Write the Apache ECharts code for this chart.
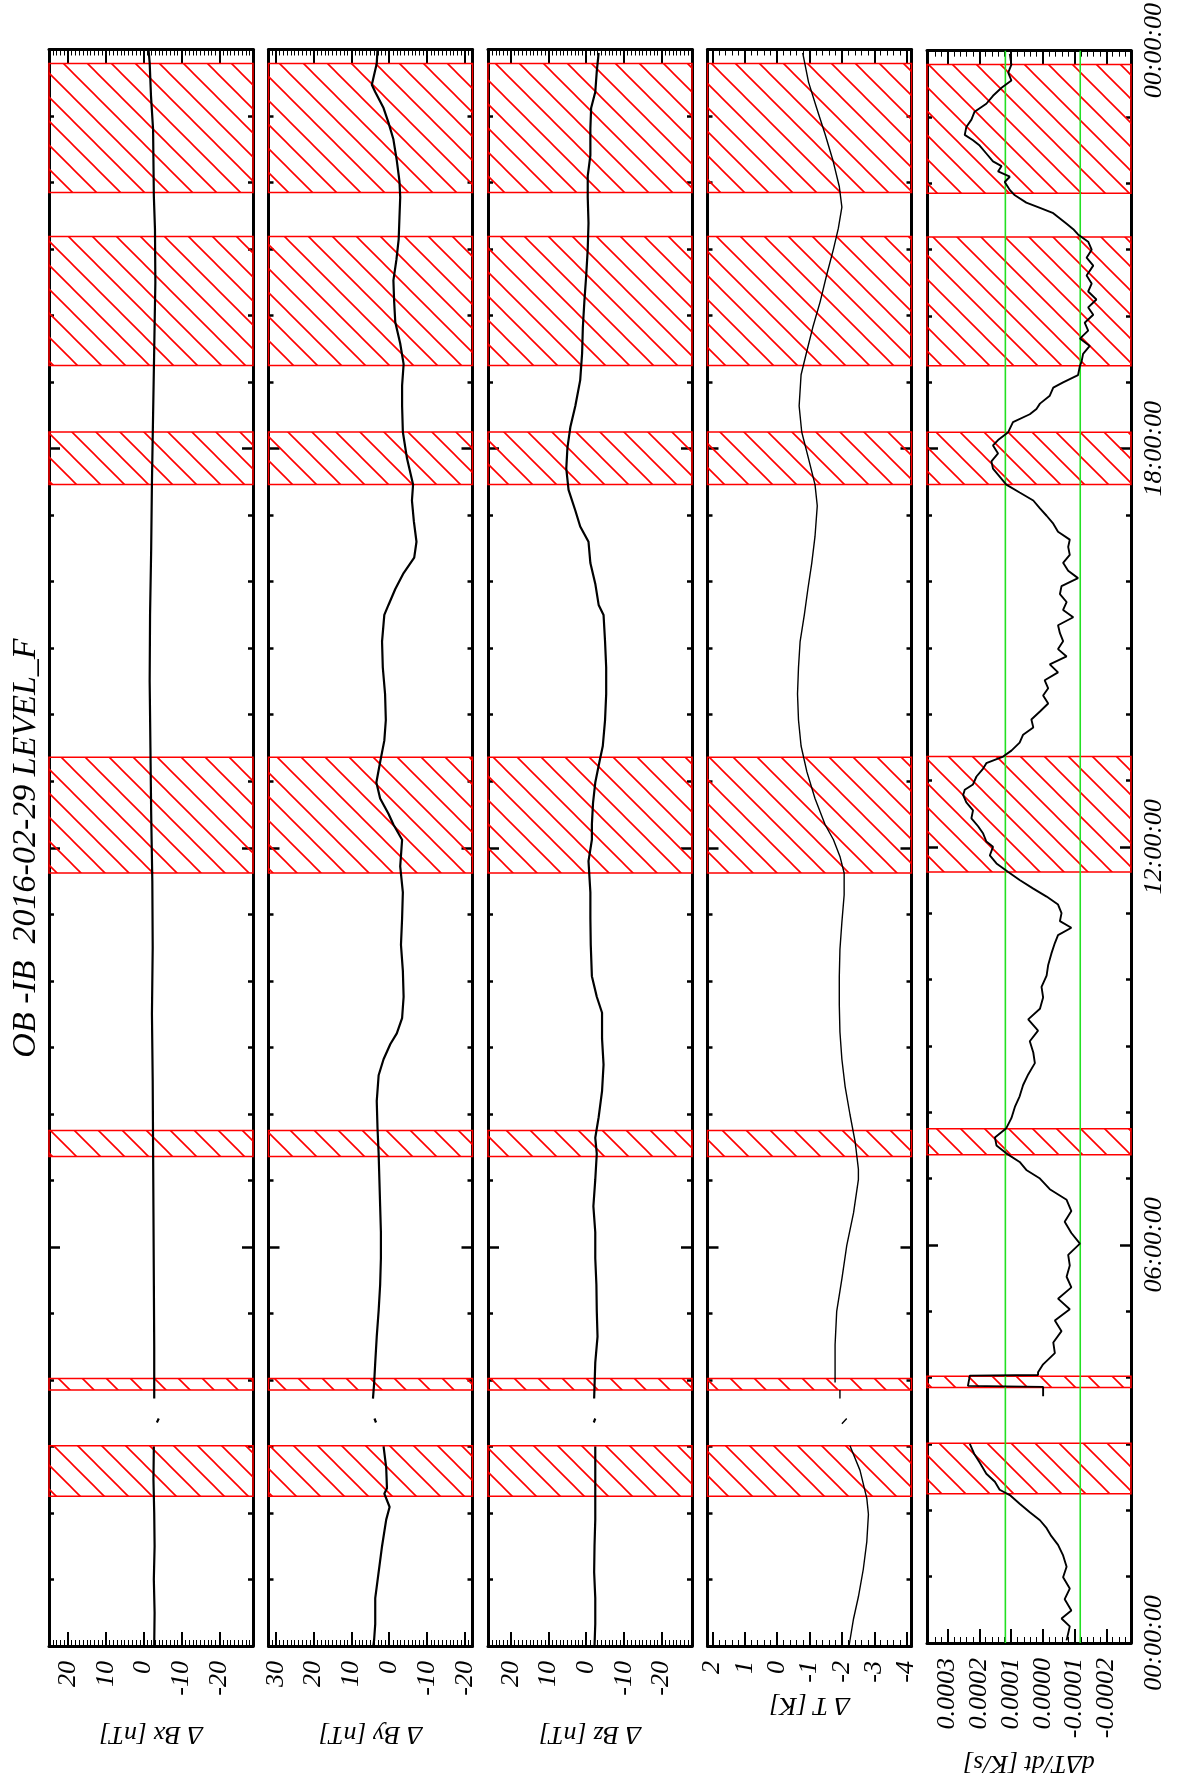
<!DOCTYPE html>
<html><head><meta charset="utf-8">
<script src="https://cdn.jsdelivr.net/npm/echarts@6/dist/echarts.min.js"></script>
<style>html,body{margin:0;padding:0;background:#fff}#c{width:1181px;height:1781px}</style>
</head><body><div id="c"></div><script>
// ---- data: [hour, value]; null = data gap ----
const bandStart = [2.25, 3.85, 7.36, 11.62, 17.46, 19.25, 21.85];
const bandEnd   = [3.01, 4.02, 7.75, 13.36, 18.25, 21.19, 23.79];
const tLimit = [0.000118, -0.000118];

const timeTicks  = [0, 6, 12, 18, 24];
const timeLabels = ['00:00:00', '06:00:00', '12:00:00', '18:00:00', '00:00:00'];
const bxTicks = [20, 10, 0, -10, -20];
const byTicks = [30, 20, 10, 0, -10, -20];
const bzTicks = [20, 10, 0, -10, -20];
const tTicks  = [2, 1, 0, -1, -2, -3, -4];
const dtTicks = [0.0003, 0.0002, 0.0001, 0, -0.0001, -0.0002];
const dtTickLabels = ['0.0003', '0.0002', '0.0001', '0.0000', '-0.0001', '-0.0002'];

const bx = [[0.0,-2.8],[0.5,-2.9],[1.0,-2.7],[1.5,-2.9],[2.0,-2.8],[2.5,-2.6],[3.0,-2.7],null,
  [3.36,-3.5],[3.42,-4.0],null,[3.72,-2.8],[4.5,-2.8],[5.5,-2.7],[6.5,-2.6],[7.5,-2.5],[8.5,-2.4],
  [9.5,-2.2],[10.5,-2.4],[11.5,-2.3],[12.5,-2.0],[13.5,-1.8],[14.5,-1.6],[15.5,-1.7],[16.5,-2.0],
  [17.5,-2.2],[18.5,-2.5],[19.5,-2.8],[20.5,-3.1],[21.3,-3.0],[21.8,-2.7],[22.3,-2.6],[22.8,-2.5],
  [23.3,-1.95],[23.8,-1.6],[24.0,-1.3]];

const by = [[0.00,4.2],[0.09,4.0],[0.33,3.7],[0.72,3.7],[1.11,2.8],[1.50,1.9],[1.90,0.8],[2.09,-0.1],
  [2.29,1.3],[2.37,0.6],[2.68,0.8],[3.00,1.5],null,[3.36,3.5],[3.42,3.9],null,[3.72,4.3],[3.94,4.0],
  [4.26,3.7],[4.65,3.3],[5.04,2.8],[5.43,2.4],[5.83,2.2],[6.22,2.2],[6.61,2.4],[7.01,2.6],[7.40,2.8],
  [7.79,3.1],[8.19,3.3],[8.58,2.8],[8.82,1.5],[9.05,-0.3],[9.21,-2.0],[9.44,-3.4],[9.76,-3.8],
  [10.15,-3.6],[10.54,-3.1],[10.94,-3.4],[11.33,-3.6],[11.72,-2.9],[12.12,-3.4],[12.35,-1.1],
  [12.51,0.2],[12.74,2.4],[12.98,3.4],[13.29,2.4],[13.61,1.3],[13.92,0.9],[14.31,1.1],[14.71,1.7],
  [15.10,1.9],[15.50,1.3],[15.65,0.2],[15.89,-1.6],[16.13,-3.8],[16.36,-6.6],[16.60,-7.2],
  [16.91,-6.5],[17.22,-6.0],[17.46,-6.3],[17.85,-4.7],[18.25,-3.6],[18.64,-3.4],[18.95,-3.4],
  [19.27,-3.8],[19.58,-2.9],[19.90,-1.6],[20.21,-1.3],[20.53,-1.1],[20.84,-1.9],[21.15,-2.5],
  [21.47,-2.7],[21.78,-2.9],[22.02,-2.7],[22.33,-2.0],[22.65,-1.1],[22.90,0.2],[23.12,1.5],
  [23.36,3.7],[23.47,4.6],[23.79,3.3],[24.00,3.1]];

const bz = [[0.00,-2.2],[0.33,-2.4],[0.72,-2.4],[1.11,-2.1],[1.50,-2.2],[1.90,-2.4],[2.29,-2.4],
  [2.68,-2.4],[3.00,-2.4],null,[3.36,-2.0],[3.42,-2.4],null,[3.72,-2.1],[4.26,-2.4],[4.65,-3.0],
  [5.04,-2.8],[5.43,-2.7],[5.83,-2.4],[6.22,-2.4],[6.61,-1.9],[7.01,-2.4],[7.40,-2.8],[7.64,-2.4],
  [7.95,-3.3],[8.34,-4.2],[8.74,-4.6],[9.13,-4.2],[9.52,-4.2],[9.76,-2.8],[10.07,-1.5],[10.54,-1.2],
  [10.94,-1.1],[11.33,-1.1],[11.80,-0.6],[12.12,-1.5],[12.35,-1.5],[12.67,-1.8],[12.98,-2.4],
  [13.29,-3.5],[13.53,-4.4],[13.92,-5.0],[14.31,-5.3],[14.71,-5.3],[15.10,-5.0],[15.50,-4.6],
  [15.65,-3.3],[15.97,-2.4],[16.28,-1.1],[16.60,-0.6],[16.83,1.6],[17.07,2.9],[17.38,4.7],
  [17.70,5.3],[18.01,5.0],[18.33,4.2],[18.64,2.9],[19.03,1.6],[19.43,1.1],[19.82,0.9],[20.21,0.5],
  [20.61,0.0],[21.00,-0.4],[21.39,-0.6],[21.78,-0.4],[22.10,-0.4],[22.41,-1.1],[22.81,-1.1],
  [23.12,-1.3],[23.36,-2.4],[23.67,-2.8],[23.95,-3.3]];

const dT = [[0.00,-2.22],[0.41,-2.36],[0.74,-2.51],[1.15,-2.66],[1.57,-2.77],[1.98,-2.82],[2.22,-2.77],
  [2.64,-2.56],[3.01,-2.25],null,[3.34,-2.0],[3.42,-2.15],null,[3.72,-1.94],[3.85,-1.94],null,
  [3.96,-1.79],[4.53,-1.79],[5.03,-1.84],[5.52,-2.0],[6.02,-2.15],[6.51,-2.36],[7.01,-2.51],
  [7.17,-2.51],[7.58,-2.41],[7.99,-2.25],[8.41,-2.1],[8.82,-2.0],[9.23,-1.94],[9.64,-1.92],
  [10.06,-1.92],[10.47,-1.94],[10.88,-2.0],[11.29,-2.07],[11.62,-2.07],[11.87,-1.94],[12.12,-1.74],
  [12.35,-1.48],[12.74,-1.17],[13.14,-0.92],[13.53,-0.74],[13.92,-0.66],[14.31,-0.63],[14.71,-0.66],
  [15.10,-0.71],[15.50,-0.84],[15.89,-0.95],[16.28,-1.07],[16.68,-1.17],[17.14,-1.24],[17.46,-1.17],
  [17.85,-0.97],[18.25,-0.76],[18.64,-0.68],[19.11,-0.74],[19.43,-0.90],[19.82,-1.10],[20.21,-1.33],
  [20.61,-1.53],[21.00,-1.74],[21.31,-1.89],[21.63,-2.0],[21.94,-1.92],[22.34,-1.72],[22.73,-1.48],
  [23.12,-1.22],[23.51,-0.97],[23.95,-0.79]];

const dTdt = [[0.04,-0.75e-4],[0.25,-0.85e-4],[0.37,-0.59e-4],[0.49,-0.90e-4],[0.66,-0.69e-4],
  [0.82,-0.85e-4],[0.99,-0.64e-4],[1.15,-0.75e-4],[1.32,-0.64e-4],[1.48,-0.48e-4],[1.61,-0.27e-4],
  [1.73,-0.12e-4],[1.85,0.09e-4],[1.97,0.41e-4],[2.10,0.73e-4],[2.23,1.04e-4],[2.31,1.36e-4],
  [2.43,1.51e-4],[2.55,1.78e-4],[2.72,1.99e-4],[2.84,2.15e-4],[3.00,2.30e-4],null,
  [3.72,-0.01e-4],[3.86,-0.01e-4],[3.875,2.36e-4],[4.03,2.30e-4],[4.04,0.15e-4],[4.08,0.15e-4],
  [4.20,-0.01e-4],[4.37,-0.38e-4],[4.53,-0.33e-4],[4.70,-0.59e-4],[4.86,-0.38e-4],[5.03,-0.85e-4],
  [5.19,-0.48e-4],[5.36,-0.90e-4],[5.52,-0.75e-4],[5.69,-0.85e-4],[5.85,-0.80e-4],[6.02,-1.17e-4],
  [6.18,-0.90e-4],[6.35,-0.69e-4],[6.51,-0.90e-4],[6.68,-0.75e-4],[6.84,-0.22e-4],[7.00,0.09e-4],
  [7.13,0.52e-4],[7.25,0.73e-4],[7.38,1.15e-4],[7.50,1.46e-4],[7.62,1.51e-4],[7.76,1.15e-4],
  [7.91,0.99e-4],[8.08,0.88e-4],[8.24,0.73e-4],[8.41,0.62e-4],[8.57,0.46e-4],[8.74,0.25e-4],
  [8.90,0.30e-4],[9.07,0.41e-4],[9.23,0.15e-4],[9.40,0.46e-4],[9.56,0.09e-4],[9.73,-0.01e-4],
  [9.89,0.04e-4],[10.06,-0.12e-4],[10.22,-0.17e-4],[10.39,-0.27e-4],[10.55,-0.38e-4],
  [10.67,-0.48e-4],[10.78,-0.90e-4],[10.88,-0.54e-4],[11.00,-0.59e-4],[11.13,-0.48e-4],
  [11.25,-0.12e-4],[11.37,0.30e-4],[11.50,0.73e-4],[11.62,1.09e-4],[11.75,1.46e-4],[11.87,1.67e-4],
  [12.00,1.57e-4],[12.08,1.78e-4],[12.20,1.88e-4],[12.31,2.04e-4],[12.43,2.25e-4],[12.55,2.20e-4],
  [12.67,2.41e-4],[12.78,2.51e-4],[12.86,2.46e-4],[12.94,2.20e-4],[13.06,2.09e-4],[13.18,1.88e-4],
  [13.26,1.78e-4],[13.36,1.25e-4],[13.45,0.99e-4],[13.57,0.73e-4],[13.69,0.62e-4],[13.80,0.30e-4],
  [13.92,0.36e-4],[14.04,0.09e-4],[14.16,-0.17e-4],[14.28,-0.01e-4],[14.39,-0.17e-4],
  [14.51,-0.06e-4],[14.63,-0.48e-4],[14.75,-0.22e-4],[14.87,-0.75e-4],[14.98,-0.48e-4],
  [15.10,-0.64e-4],[15.22,-0.54e-4],[15.34,-0.48e-4],[15.46,-0.96e-4],[15.57,-0.64e-4],
  [15.69,-0.75e-4],[15.81,-0.54e-4],[15.93,-0.59e-4],[16.05,-1.11e-4],[16.16,-0.80e-4],
  [16.28,-0.64e-4],[16.40,-0.85e-4],[16.52,-0.80e-4],[16.63,-0.85e-4],[16.75,-0.48e-4],
  [16.87,-0.33e-4],[16.99,-0.12e-4],[17.10,0.09e-4],[17.22,0.30e-4],[17.34,0.73e-4],[17.46,1.15e-4],
  [17.58,1.36e-4],[17.70,1.57e-4],[17.81,1.62e-4],[17.93,1.41e-4],[18.05,1.57e-4],[18.13,1.41e-4],
  [18.25,1.09e-4],[18.40,0.94e-4],[18.52,0.41e-4],[18.60,0.20e-4],[18.68,0.09e-4],[18.80,-0.22e-4],
  [18.92,-0.33e-4],[19.00,-0.64e-4],[19.11,-1.11e-4],[19.25,-1.17e-4],[19.31,-1.22e-4],
  [19.43,-1.27e-4],[19.55,-1.48e-4],[19.66,-1.17e-4],[19.78,-1.43e-4],[19.90,-1.32e-4],
  [20.02,-1.59e-4],[20.13,-1.43e-4],[20.25,-1.69e-4],[20.37,-1.43e-4],[20.49,-1.54e-4],
  [20.61,-1.38e-4],[20.76,-1.59e-4],[20.88,-1.38e-4],[21.00,-1.54e-4],[21.12,-1.43e-4],
  [21.23,-1.11e-4],[21.31,-0.96e-4],[21.39,-0.75e-4],[21.47,-0.54e-4],[21.55,-0.33e-4],
  [21.63,0.09e-4],[21.71,0.52e-4],[21.82,0.88e-4],[21.90,1.04e-4],[22.02,1.20e-4],[22.10,1.04e-4],
  [22.18,1.41e-4],[22.26,1.30e-4],[22.33,1.57e-4],[22.45,1.78e-4],[22.57,1.99e-4],[22.65,2.20e-4],
  [22.73,2.46e-4],[22.85,2.41e-4],[22.96,2.25e-4],[23.08,2.15e-4],[23.20,1.78e-4],[23.32,1.57e-4],
  [23.44,1.30e-4],[23.55,0.99e-4],[23.67,1.09e-4],[23.79,0.99e-4],[23.95,1.04e-4]];

// ---- rendering ----
const FONT = '"Liberation Serif","Times New Roman",serif';
const intFmt = v => String(Math.round(v));
const panels = [
  {data: bx,   min: -28.9,     max: 25.0,     ticks: bxTicks, step: 1,       fmt: intFmt, name: 'Δ Bx [nT]', gap: 75, lw: 2.2},
  {data: by,   min: -22.0,     max: 31.9,     ticks: byTicks, step: 1,       fmt: intFmt, name: 'Δ By [nT]', gap: 75, lw: 2.2},
  {data: bz,   min: -28.1,     max: 26.1,     ticks: bzTicks, step: 1,       fmt: intFmt, name: 'Δ Bz [nT]', gap: 75, lw: 2.2},
  {data: dT,   min: -4.15,     max: 2.15,     ticks: tTicks,  step: 0.2,     fmt: intFmt, name: 'Δ T [K]',   gap: 46, lw: 1.4},
  {data: dTdt, min: -0.000278, max: 0.000365, ticks: dtTicks, step: 0.00002, fmt: v => dtTickLabels[dtTicks.findIndex(t => Math.abs(t - v) < 1e-9)], name: 'dΔT/dt [K/s]', gap: 107, lw: 1.9}
];
const LEFTS = [49, 268.5, 488, 707.5, 927];

function hatch() {
  const s = 24, c = document.createElement('canvas');
  c.width = s; c.height = s;
  const g = c.getContext('2d');
  g.strokeStyle = '#ff0000'; g.lineWidth = 1.6;
  g.beginPath();
  for (let k = -1; k <= 1; k++) { g.moveTo(k * s - 2, -2); g.lineTo(k * s + s + 2, s + 2); }
  g.stroke();
  return c;
}
const hatchFill = {image: hatch(), repeat: 'repeat'};
const bands = bandStart.map((s, k) => [{yAxis: s}, {yAxis: bandEnd[k]}]);

const txt = {color: '#000', fontFamily: FONT, fontStyle: 'italic', fontSize: 26};
const grids = [], xAxes = [], yAxes = [], series = [];
panels.forEach((p, i) => {
  grids.push({left: LEFTS[i], top: 49.5, width: 204, height: 1596.5});
  const minors = [];
  for (let k = Math.ceil(p.min / p.step - 1e-9); k <= Math.floor(p.max / p.step + 1e-9); k++) minors.push(+(k * p.step).toPrecision(10));
  const base = {type: 'value', gridIndex: i, min: p.min, max: p.max, inverse: true, splitLine: {show: false}};
  const lineOn = {show: true, onZero: false, lineStyle: {color: '#000', width: 3}};
  const lineOff = {show: false, onZero: false};
  const majT = {show: true, inside: true, length: 14, customValues: p.ticks, lineStyle: {color: '#000', width: 2}};
  const minT = {show: true, inside: true, length: 6, customValues: minors, lineStyle: {color: '#000', width: 1}};
  xAxes.push(Object.assign({}, base, {position: 'bottom', axisLine: lineOn, axisTick: majT,
    axisLabel: Object.assign({show: true, customValues: p.ticks, rotate: 90, margin: 15, formatter: p.fmt}, txt),
    name: p.name, nameLocation: 'middle', nameGap: p.gap, nameRotate: 180, nameMoveOverlap: false,
    nameTextStyle: Object.assign({}, txt)}));
  xAxes.push(Object.assign({}, base, {position: 'bottom', axisLine: lineOff, axisTick: minT, axisLabel: {show: false}}));
  xAxes.push(Object.assign({}, base, {position: 'top', axisLine: lineOn, axisTick: majT, axisLabel: {show: false}}));
  xAxes.push(Object.assign({}, base, {position: 'top', axisLine: lineOff, axisTick: minT, axisLabel: {show: false}}));
  const ybase = {type: 'value', gridIndex: i, min: 0, max: 24, interval: 6, splitLine: {show: false},
    axisLine: lineOn, axisTick: {show: true, inside: true, length: 11, lineStyle: {color: '#000', width: 2.5}},
    minorTick: {show: true, splitNumber: 6, length: 5, lineStyle: {color: '#000', width: 2.5}},
    minorSplitLine: {show: false}};
  yAxes.push(Object.assign({}, ybase, {position: 'left', axisLabel: {show: false}}));
  yAxes.push(Object.assign({}, ybase, {position: 'right', axisLabel: i === 4 ?
    Object.assign({show: true, rotate: 90, margin: 10, formatter: v => timeLabels[timeTicks.indexOf(v)]}, txt) : {show: false}}));
  series.push({type: 'line', xAxisIndex: 4 * i, yAxisIndex: 2 * i,
    data: p.data.map(d => d ? [d[1], d[0]] : [null, null]),
    showSymbol: false, symbol: 'none', connectNulls: false, silent: true, z: 3,
    lineStyle: {color: '#000', width: p.lw}, itemStyle: {color: '#000'},
    markArea: {silent: true, label: {show: false}, itemStyle: {color: hatchFill, borderColor: '#ff0000', borderWidth: 1.5}, data: bands}});
});
// green limit lines in the dT/dt panel
tLimit.forEach(v => series.push({type: 'line', xAxisIndex: 16, yAxisIndex: 8, data: [[v, 0], [v, 24]],
  showSymbol: false, symbol: 'none', silent: true, z: 2,
  lineStyle: {color: '#22e022', width: 1.6}, itemStyle: {color: '#22e022'}}));

const chart = echarts.init(document.getElementById('c'), null, {renderer: 'canvas'});
chart.setOption({
  animation: false, backgroundColor: '#fff',
  grid: grids, xAxis: xAxes, yAxis: yAxes, series: series,
  graphic: [{type: 'text', x: 26, y: 848, rotation: Math.PI / 2,
    style: {text: 'OB -IB  2016-02-29 LEVEL_F', fill: '#000', fontSize: 34, fontFamily: FONT, fontStyle: 'italic',
      align: 'center', verticalAlign: 'middle', textAlign: 'center', textVerticalAlign: 'middle'}}]
});
</script></body></html>
